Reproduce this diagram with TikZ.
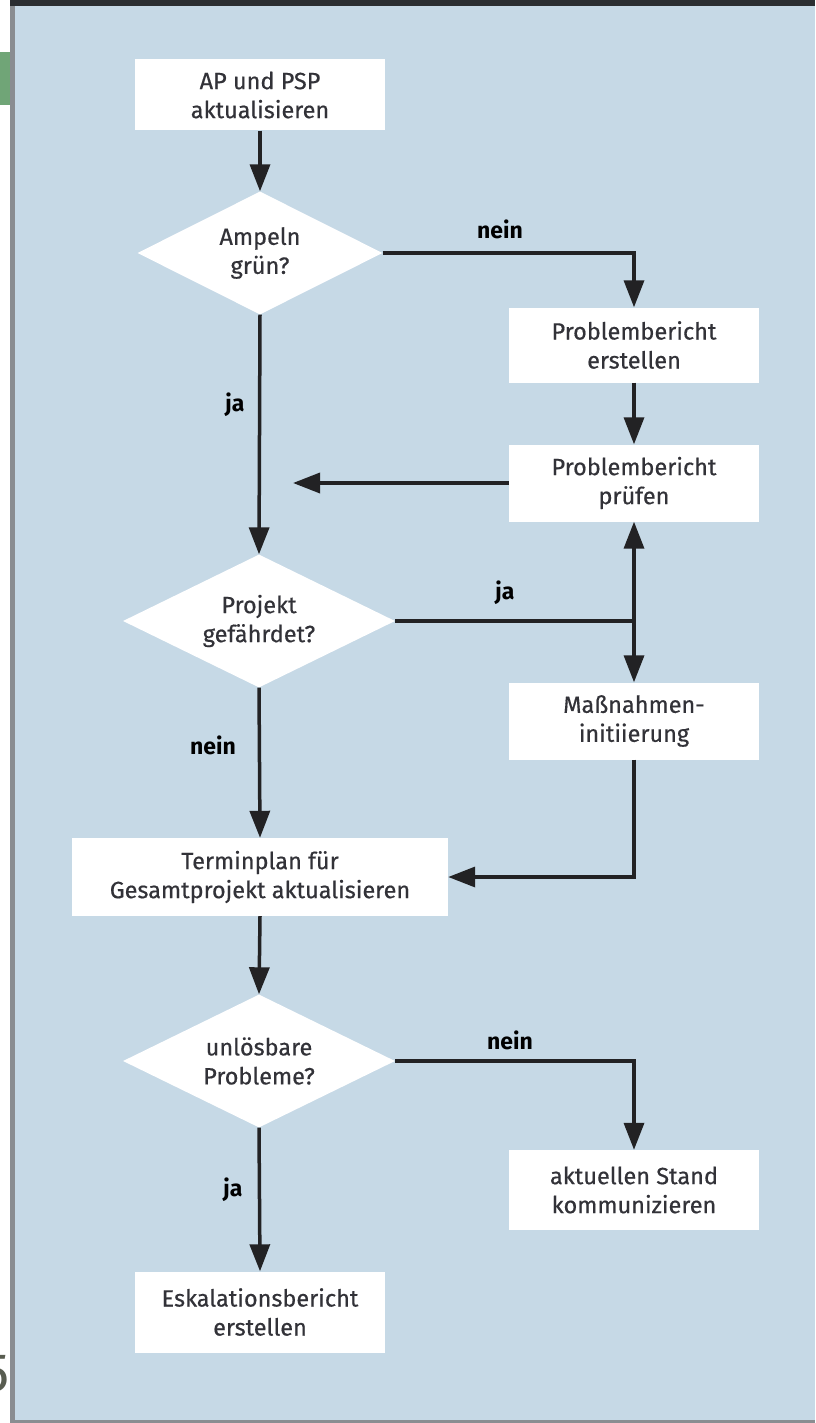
\documentclass[tikz,border=0pt]{standalone}
\usepackage{fontspec}
\setmainfont{Fira Sans}
\newfontfamily\boxfont[FakeBold=0.5]{Fira Sans}
\usetikzlibrary{shapes.geometric,arrows.meta}
\definecolor{panel}{RGB}{198,217,230}
\definecolor{edgegray}{RGB}{138,141,145}
\definecolor{topband}{RGB}{43,46,49}
\definecolor{tabgreen}{RGB}{112,165,119}
\definecolor{pagenum}{RGB}{88,92,80}
\definecolor{boxtext}{RGB}{50,50,56}
\definecolor{flow}{RGB}{34,34,36}
\tikzset{
  stepbox/.style={fill=white, draw=none, inner sep=0pt, align=center,
    minimum width=250pt, minimum height=78pt, text=boxtext,
    font=\boxfont\fontsize{23.5}{29}\selectfont},
  decision/.style={diamond, aspect=2, fill=white, draw=none, inner sep=0pt,
    align=center, text=boxtext, font=\boxfont\fontsize{23.5}{29}\selectfont},
  flowline/.style={draw=flow, line width=3.5pt},
  flowarrow/.style={flowline, -{Triangle[length=27pt,width=20pt]}},
  answer/.style={text=black, font=\fontsize{23}{26}\selectfont\bfseries}
}
\begin{document}
\begin{tikzpicture}[x=1pt,y=-1pt]
\useasboundingbox (0,0) rectangle (815,1423);
% page background, panel and its frame
\fill[white] (0,0) rectangle (815,1423);
\fill[panel] (15,0) rectangle (815,1423);
\fill[edgegray] (10,0) rectangle (15,1423);
\fill[topband] (10,0) rectangle (815,6);
\fill[edgegray] (10,1420) rectangle (815,1423);
\fill[tabgreen] (0,52) rectangle (10,105);
\begin{scope}
  \clip (0,1330) rectangle (10,1420);
  \node[text=pagenum, font=\fontsize{54}{54}\selectfont, anchor=east, inner sep=0pt] (pg) at (10,1374) {5};
\end{scope}

% process steps
\node[stepbox, minimum height=71pt] (b1) at (260,95) {AP und PSP\\aktualisieren};
\node[decision, minimum width=245pt, minimum height=123pt] (d1) at (260,253) {Ampeln\\grün?};
\node[stepbox, minimum height=75pt] (pe) at (634,345) {Problembericht\\erstellen};
\node[stepbox, minimum height=77pt] (pp) at (634,483) {Problembericht\\prüfen};
\node[decision, minimum width=272pt, minimum height=133pt] (d2) at (259,621) {Projekt\\gefährdet?};
\node[stepbox, minimum height=77pt] (mi) at (634,721) {Maßnahmen-\\initiierung};
\node[stepbox, minimum width=376pt] (tp) at (260,877) {Terminplan für\\Gesamtprojekt aktualisieren};
\node[decision, minimum width=272pt, minimum height=133pt] (d3) at (259,1061) {unlösbare\\Probleme?};
\node[stepbox, minimum height=80pt] (as) at (634,1190) {aktuellen Stand\\kommunizieren};
\node[stepbox, minimum height=81pt] (eb) at (260,1312) {Eskalationsbericht\\erstellen};

% routing points
\coordinate (c1) at (634,253);
\coordinate (j) at (634,621);
\coordinate (c2) at (634,877);
\coordinate (c3) at (634,1061);
\coordinate (back) at (293,483);

% connectors
\draw[flowarrow] (b1.south) -- (d1.north);
\draw[flowarrow] (d1.east) -- (c1) -- (pe.north);
\draw[flowarrow] (d1.south) -- (d2.north);
\draw[flowarrow] (pe.south) -- (pp.north);
\draw[flowarrow] (pp.west) -- (back);
\draw[flowline] (d2.east) -- (j);
\draw[flowarrow] (j) -- (pp.south);
\draw[flowarrow] (j) -- (mi.north);
\draw[flowarrow] (d2.south) -- (tp.north);
\draw[flowarrow] (mi.south) -- (c2) -- (tp.east);
\draw[flowarrow] (tp.south) -- (d3.north);
\draw[flowarrow] (d3.east) -- (c3) -- (as.north);
\draw[flowarrow] (d3.south) -- (eb.north);

% branch labels
\node[answer] (l1) at (500,229) {nein};
\node[answer] (l2) at (235,405) {ja};
\node[answer] (l3) at (505,593) {ja};
\node[answer] (l4) at (213,745) {nein};
\node[answer] (l5) at (510,1040) {nein};
\node[answer] (l6) at (233,1190) {ja};
\end{tikzpicture}
\end{document}
